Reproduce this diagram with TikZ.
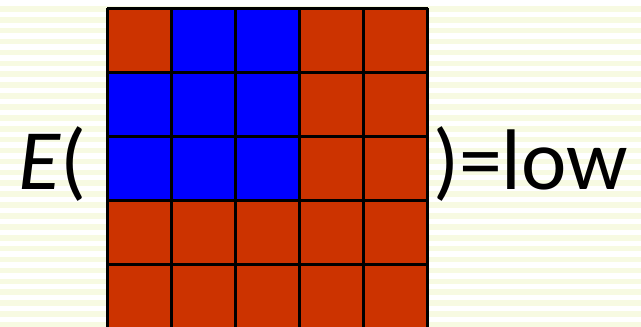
\documentclass[tikz,border=0pt]{standalone}
\usepackage{fontspec}
\setmainfont{Carlito}
\definecolor{cellred}{RGB}{204,51,0}
\definecolor{cellblue}{RGB}{0,0,255}
\definecolor{stripe}{RGB}{247,250,226}
\tikzset{
  cell/.style={draw=black, line width=3pt},
  bigtext/.style={font=\fontsize{86}{94}\selectfont, inner sep=0pt, outer sep=0pt, anchor=base west}
}
\begin{document}
\begin{tikzpicture}[x=1pt,y=-1pt]
\useasboundingbox (0,0) rectangle (641,327);
\begin{scope}
\clip (0,0) rectangle (641,327);
\fill[white] (0,0) rectangle (641,327);
\foreach \i in {0,...,30} {
  \fill[stripe] (0,{6+10.9*\i}) rectangle (641,{11.6+10.9*\i});
}
\foreach \r in {0,...,4} {
  \foreach \c in {0,...,4} {
    \pgfmathsetmacro{\isblue}{((\r==0 && (\c==1 || \c==2)) || ((\r==1 || \r==2) && \c<3)) ? 1 : 0}
    \ifdim\isblue pt>0.5pt
      \def\cc{cellblue}
    \else
      \def\cc{cellred}
    \fi
    \fill[\cc] ({107+64.1*\c},{8+64*\r}) rectangle ({107+64.1*(\c+1)},{8+64*(\r+1)});
  }
}
\foreach \c in {0,...,5} {
  \draw[cell] ({107+64.1*\c},8) -- ({107+64.1*\c},340);
}
\foreach \r in {0,...,5} {
  \draw[cell] (107,{8+64*\r}) -- (427.5,{8+64*\r});
}
\end{scope}
\node[bigtext] (lhs) at (19,189) {\itshape E\upshape(};
\node[bigtext] (rhs) at (433,189) {)=low};
\end{tikzpicture}
\end{document}
